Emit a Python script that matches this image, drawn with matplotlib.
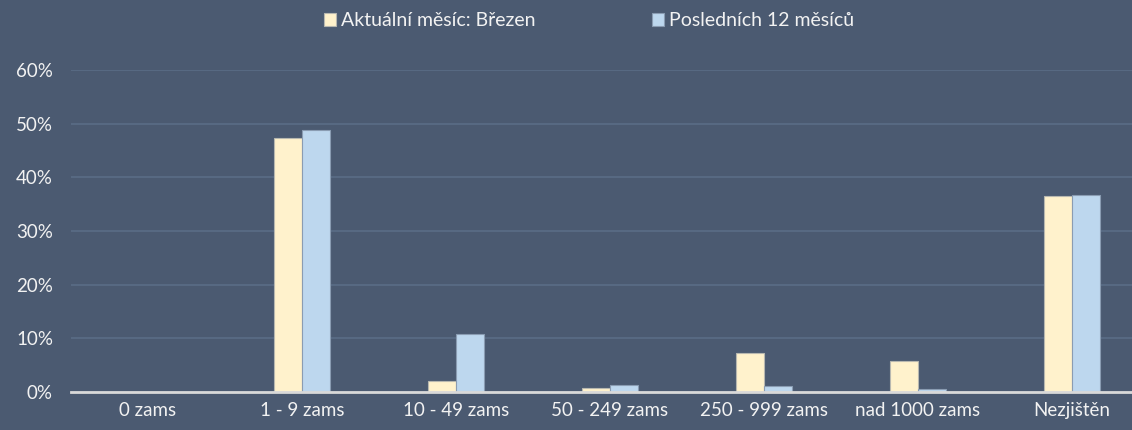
import numpy as np
import matplotlib.pyplot as plt
from matplotlib.ticker import PercentFormatter

categories = ["0 zams", "1 - 9 zams", "10 - 49 zams", "50 - 249 zams",
              "250 - 999 zams", "nad 1000 zams", "Nezjištěn"]
current_month = [0.0, 47.3, 2.0, 0.7, 7.2, 5.7, 36.6]
last_12_months = [0.0, 48.8, 10.8, 1.3, 1.1, 0.6, 36.8]
labels = ["Aktuální měsíc: Březen", "Posledních 12 měsíců"]

bg = "#4B5A71"
text_col = "#F2F2F2"

plt.rcParams['font.family'] = ['Lato', 'DejaVu Sans']

fig = plt.figure(figsize=(11.32, 4.30), dpi=100, facecolor=bg)
ax = fig.add_axes([71 / 1132, 1 - 392 / 430, 1078 / 1132, 322 / 430])
ax.set_facecolor(bg)

x = np.arange(len(categories))
w = 0.18
ax.bar(x - w / 2, current_month, w, color="#FFF2CC", edgecolor="#B8B8B0",
       linewidth=0.8, label=labels[0], zorder=3)
ax.bar(x + w / 2, last_12_months, w, color="#BDD7EE", edgecolor="#8A9CB2",
       linewidth=0.8, label=labels[1], zorder=3)

ax.set_xlim(-0.5, len(categories) - 0.5)
ax.set_ylim(0, 60)
ax.set_yticks(range(0, 61, 10))
ax.yaxis.set_major_formatter(PercentFormatter(decimals=0))
ax.set_xticks(x)
ax.set_xticklabels(categories)

ax.grid(axis="y", color="#5A6D86", linewidth=1.2, zorder=0)
for s in ["top", "right", "left"]:
    ax.spines[s].set_visible(False)
ax.spines["bottom"].set_color("#D9D9D9")
ax.spines["bottom"].set_linewidth(2)
ax.spines["bottom"].set_zorder(4)

ax.tick_params(axis="both", length=0, labelcolor=text_col, labelsize=13.5)
ax.tick_params(axis="y", pad=13)
ax.tick_params(axis="x", pad=7)

fig.legend(loc="center", bbox_to_anchor=(589 / 1132, 1 - 21 / 430), ncol=2,
           frameon=False, fontsize=14, labelcolor=text_col,
           handlelength=0.62, handleheight=0.62, handletextpad=0.26,
           columnspacing=6.0)

plt.savefig("out.png", dpi=100, facecolor=bg)
